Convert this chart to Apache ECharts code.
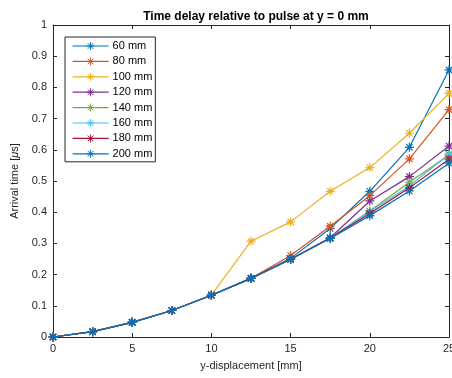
<!DOCTYPE html>
<html>
<head>
<meta charset="utf-8">
<script src="https://cdn.jsdelivr.net/npm/echarts@6/dist/echarts.min.js"></script>
<style>
  html, body { margin: 0; padding: 0; background: #fff; }
  #chart { width: 452px; height: 378px; }
</style>
</head>
<body>
<div id="chart"></div>
<script>
// y-displacement positions [mm]
const yDisp = [0, 2.5, 5, 7.5, 10, 12.5, 15, 17.5, 20, 22.5, 25];

// arrival times [µs] per distance
const t60  = [0, 0.017, 0.047, 0.085, 0.134, 0.188, 0.252, 0.348, 0.467, 0.608, 0.856];
const t80  = [0, 0.017, 0.047, 0.085, 0.134, 0.188, 0.261, 0.355, 0.453, 0.571, 0.729];
const t100 = [0, 0.017, 0.047, 0.085, 0.134, 0.307, 0.369, 0.467, 0.543, 0.653, 0.781];
const t120 = [0, 0.017, 0.047, 0.085, 0.134, 0.188, 0.249, 0.318, 0.436, 0.514, 0.612];
const t140 = [0, 0.017, 0.047, 0.085, 0.134, 0.188, 0.249, 0.317, 0.404, 0.496, 0.583];
const t160 = [0, 0.017, 0.047, 0.085, 0.134, 0.188, 0.249, 0.317, 0.402, 0.484, 0.586];
const t180 = [0, 0.017, 0.047, 0.085, 0.134, 0.188, 0.249, 0.317, 0.396, 0.478, 0.570];
const t200 = [0, 0.017, 0.047, 0.085, 0.134, 0.188, 0.249, 0.316, 0.389, 0.468, 0.557];

const seriesNames = ['60 mm', '80 mm', '100 mm', '120 mm', '140 mm', '160 mm', '180 mm', '200 mm'];
const seriesValues = [t60, t80, t100, t120, t140, t160, t180, t200];
const seriesColors = ['#0072BD', '#D95319', '#EDB120', '#7E2F8E', '#77AC30', '#4DBEEE', '#A2142F', '#0072BD'];

const xTicks = [0, 5, 10, 15, 20, 25];
const yTicks = [0, 0.1, 0.2, 0.3, 0.4, 0.5, 0.6, 0.7, 0.8, 0.9, 1];

// eight-armed asterisk marker
const asterisk = 'path://M5,0L5,10M0,5L10,5M1.5,1.5L8.5,8.5M1.5,8.5L8.5,1.5';

const FONT = 'Liberation Sans, Arial, Helvetica, sans-serif';
const AXIS = '#262626';

const chart = echarts.init(document.getElementById('chart'), null, { renderer: 'canvas' });

const series = seriesNames.map((name, i) => ({
  name: name,
  type: 'line',
  data: yDisp.map((x, j) => [x, seriesValues[i][j]]),
  symbol: asterisk,
  symbolSize: 9,
  showAllSymbol: true,
  lineStyle: { color: seriesColors[i], width: 1.2 },
  itemStyle: { color: 'rgba(0,0,0,0)', borderColor: seriesColors[i], borderWidth: 1.2 },
  emphasis: { disabled: true },
  animation: false,
  z: 2 + i
}));

const baseAxis = {
  type: 'value',
  axisLine: { show: true, onZero: false, lineStyle: { color: AXIS, width: 1 } },
  axisTick: { show: true, inside: true, length: 4, lineStyle: { color: AXIS } },
  splitLine: { show: false },
  axisLabel: { show: false }
};

chart.setOption({
  animation: false,
  backgroundColor: '#fff',
  title: {
    text: 'Time delay relative to pulse at y = 0 mm',
    left: 251, top: 6, textAlign: 'center',
    textStyle: { fontFamily: FONT, fontSize: 12, fontWeight: 'bold', color: '#000' }
  },
  grid: { left: 53, right: 3, top: 25, bottom: 41, containLabel: false, outerBoundsMode: 'none' },
  legend: {
    orient: 'vertical',
    left: 65, top: 37,
    padding: [3, 3, 2, 7],
    itemWidth: 36, itemHeight: 10, itemGap: 3.4,
    backgroundColor: '#fff',
    borderColor: AXIS, borderWidth: 1,
    lineStyle: { width: 1.2 },
    itemStyle: { borderWidth: 1 },
    textStyle: { fontFamily: FONT, fontSize: 11, color: '#000', lineHeight: 12, padding: [0, 0, 0, -1] },
    data: seriesNames
  },
  xAxis: [
    Object.assign({}, baseAxis, {
      position: 'bottom', min: 0, max: 25, interval: 5,
      name: 'y-displacement [mm]', nameLocation: 'middle', nameGap: 23,
      nameTextStyle: { fontFamily: FONT, fontSize: 11, color: AXIS },
      axisLabel: { show: true, fontFamily: FONT, fontSize: 11, color: AXIS, margin: 6,
        formatter: v => (xTicks.indexOf(v) >= 0 ? String(v) : '') }
    }),
    Object.assign({}, baseAxis, { position: 'top', min: 0, max: 25, interval: 5 })
  ],
  yAxis: [
    Object.assign({}, baseAxis, {
      position: 'left', min: 0, max: 1, interval: 0.1,
      name: 'Arrival time [{i|μ}s]', nameLocation: 'middle', nameGap: 30, nameRotate: 90,
      nameTextStyle: { fontFamily: FONT, fontSize: 11, color: AXIS,
        rich: { i: { fontFamily: FONT, fontSize: 11, fontStyle: 'italic', color: AXIS } } },
      axisLabel: { show: true, fontFamily: FONT, fontSize: 11, color: AXIS, margin: 6,
        formatter: v => { const k = yTicks.findIndex(t => Math.abs(t - v) < 1e-9); return k >= 0 ? String(yTicks[k]) : ''; } }
    }),
    Object.assign({}, baseAxis, { position: 'right', min: 0, max: 1, interval: 0.1 })
  ],
  series: series
});
</script>
</body>
</html>
